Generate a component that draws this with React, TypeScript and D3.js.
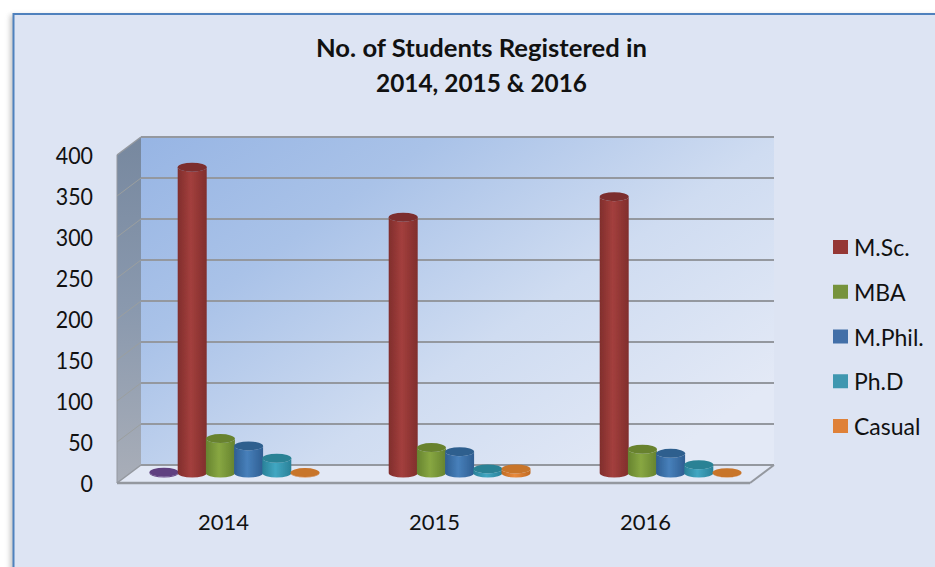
import * as d3 from "d3";

// Values. The purple series has no legend entry in the source.
const YEARS = ["2014", "2015", "2016"];
const SERIES = ["Other", "M.Sc.", "MBA", "M.Phil.", "Ph.D", "Casual"];
const OTHER = [1, null, null];
const MSC = [373, 312, 337];
const MBA = [42, 31, 29];
const MPHIL = [33, 26, 24];
const PHD = [18, 5, 10];
const CASUAL = [0.5, 5, 0.3];
const VALUES = [OTHER, MSC, MBA, MPHIL, PHD, CASUAL];
const LEGEND = ["M.Sc.", "MBA", "M.Phil.", "Ph.D", "Casual"];
const Y_TICKS = [0, 50, 100, 150, 200, 250, 300, 350, 400];

const COLORS: Record<string, { dark: string; mid: string; top: string }> = {
  Other: { dark: "#5a3a78", mid: "#6d4a8c", top: "#5f4080" },
  "M.Sc.": { dark: "#802e2c", mid: "#a33f3d", top: "#7c2f2d" },
  MBA: { dark: "#66832f", mid: "#88a742", top: "#68822f" },
  "M.Phil.": { dark: "#2f5e92", mid: "#4780bb", top: "#2e5f8e" },
  "Ph.D": { dark: "#2a8198", mid: "#41a7c2", top: "#2a8295" },
  Casual: { dark: "#c06a22", mid: "#e98a3d", top: "#c8742a" },
};
const LEGEND_FILL = ["#953735", "#76933c", "#426fa8", "#3f97b0", "#df8138"];

const FONT = "Lato, 'Open Sans', sans-serif";
const TEXT = "#111";
const GRID = "#94989f";

const WIDTH = 935;
const HEIGHT = 567;
const BACK = { dx: 24, dy: -18 };
const BAR_DY = -10;
const RX = 14.5;
const RY = 4.5;

const y = d3.scaleLinear().domain([0, 400]).range([483, 155]);
const xFront = d3.scaleBand().domain(YEARS).range([117, 750]);
const x0 = d3.scaleBand().domain(YEARS).range([129, 762]);
const x1 = d3.scaleBand().domain(SERIES).range([-84.6, 84.6]);
const legendY = d3.scalePoint().domain(LEGEND).range([247, 426]);

function cylinderBody(cx: number, yTop: number, yBase: number) {
  return (
    `M${cx - RX},${yTop} L${cx - RX},${yBase} ` +
    `A${RX},${RY} 0 0 0 ${cx + RX},${yBase} L${cx + RX},${yTop} ` +
    `A${RX},${RY} 0 0 1 ${cx - RX},${yTop} Z`
  );
}

export default function App() {
  const [x00, x11] = xFront.range();
  const y0 = y(0);
  const y4 = y(400);

  return (
    <svg
      width={WIDTH}
      height={HEIGHT}
      style={{ position: "absolute", left: 0, top: 0, background: "#fff" }}
    >
      <defs>
        <linearGradient id="wall" x1="0" y1="0" x2="1" y2="0.75">
          <stop offset="0" stopColor="#97b5e4" />
          <stop offset="0.3" stopColor="#a9c2e8" />
          <stop offset="0.65" stopColor="#cfdcf1" />
          <stop offset="1" stopColor="#e3e9f6" />
        </linearGradient>
        <linearGradient id="side" x1="0" y1="0" x2="0" y2="1">
          <stop offset="0" stopColor="#77889f" />
          <stop offset="0.5" stopColor="#8a99ae" />
          <stop offset="1" stopColor="#a9aeb8" />
        </linearGradient>
        <filter id="soft" x="-10%" y="-10%" width="120%" height="120%">
          <feGaussianBlur stdDeviation="0.6" />
        </filter>
        <filter id="cardShadow" x="-5%" y="-5%" width="110%" height="110%">
          <feGaussianBlur stdDeviation="2.5" />
        </filter>
        {SERIES.map((s, i) => (
          <linearGradient key={s} id={`bar${i}`} x1="0" y1="0" x2="1" y2="0">
            <stop offset="0" stopColor={COLORS[s].dark} />
            <stop offset="0.45" stopColor={COLORS[s].mid} />
            <stop offset="1" stopColor={COLORS[s].dark} />
          </linearGradient>
        ))}
      </defs>

      {/* Card, running off the right and bottom edges */}
      <rect x={10} y={15} width={WIDTH} height={HEIGHT} fill="#999" opacity={0.55} filter="url(#cardShadow)" />
      <rect x={13.5} y={14} width={WIDTH} height={HEIGHT} fill="#dde4f3" stroke="#4f81bd" strokeWidth={2} />

      {/* Title */}
      <g fontFamily={FONT} fontWeight={700} fontSize={24} fill={TEXT} textAnchor="middle">
        <text x={481.5} y={57} textLength={331} lengthAdjust="spacingAndGlyphs">
          No. of Students Registered in
        </text>
        <text x={481.5} y={92} textLength={211} lengthAdjust="spacingAndGlyphs">
          2014, 2015 &amp; 2016
        </text>
      </g>

      {/* Floor, side wall, back wall */}
      <path
        d={`M${x00},${y0} L${x00 + BACK.dx},${y0 + BACK.dy} L${x11 + BACK.dx},${y0 + BACK.dy} L${x11},${y0} Z`}
        fill="#e2e8f5"
      />
      <path
        d={`M${x00},${y4} L${x00 + BACK.dx},${y4 + BACK.dy} L${x00 + BACK.dx},${y0 + BACK.dy} L${x00},${y0} Z`}
        fill="url(#side)"
      />
      <rect
        x={x00 + BACK.dx}
        y={y4 + BACK.dy}
        width={x11 - x00}
        height={y0 - y4}
        fill="url(#wall)"
      />

      {/* Gridlines */}
      {Y_TICKS.map((t) => (
        <g key={t}>
          <line
            x1={x00}
            y1={y(t)}
            x2={x00 + BACK.dx}
            y2={y(t) + BACK.dy}
            stroke={t === 0 || t === 400 ? GRID : "#9b9f9f"}
            strokeWidth={t === 0 || t === 400 ? 1.5 : 1}
          />
          <line
            x1={x00 + BACK.dx}
            y1={y(t) + BACK.dy}
            x2={x11 + BACK.dx}
            y2={y(t) + BACK.dy}
            stroke={GRID}
            strokeWidth={2.2}
          />
          <text
            x={93}
            y={y(t) + 1}
            dy="0.35em"
            textAnchor="end"
            fontFamily={FONT}
            fontSize={23}
            fill={TEXT}
            textLength={String(t).length * 12.4}
            lengthAdjust="spacingAndGlyphs"
          >
            {t}
          </text>
        </g>
      ))}
      <line x1={x00} y1={y0} x2={x11} y2={y0} stroke={GRID} strokeWidth={2.5} />
      <line x1={x11} y1={y0} x2={x11 + BACK.dx} y2={y0 + BACK.dy} stroke={GRID} strokeWidth={2} />
      <line x1={x00} y1={y4} x2={x00} y2={y0} stroke={GRID} strokeWidth={1} />

      {/* Cylinders */}
      <g filter="url(#soft)">
        {YEARS.map((yr, yi) => {
          const cBand = (x0(yr) as number) + x0.bandwidth() / 2;
          return SERIES.map((s, si) => {
            const v = VALUES[si][yi];
            if (v === null) return null;
            const cx = cBand + (x1(s) as number) + x1.bandwidth() / 2;
            const yBase = y(0) + BAR_DY;
            const yTop = y(v) + BAR_DY;
            return (
              <g key={`${yr}-${s}`}>
                <path d={cylinderBody(cx, yTop, yBase)} fill={`url(#bar${si})`} />
                <ellipse cx={cx} cy={yTop} rx={RX} ry={RY} fill={COLORS[s].top} />
              </g>
            );
          });
        })}
      </g>

      {/* Category labels */}
      {YEARS.map((yr) => (
        <text
          key={yr}
          x={(xFront(yr) as number) + xFront.bandwidth() / 2 + 1}
          y={530}
          textAnchor="middle"
          fontFamily={FONT}
          fontSize={22}
          fill={TEXT}
        >
          {yr}
        </text>
      ))}

      {/* Legend */}
      {LEGEND.map((name, i) => (
        <g key={name} transform={`translate(833,${legendY(name)})`}>
          <rect x={0} y={-7} width={15} height={14} fill={LEGEND_FILL[i]} />
          <text x={21} y={1} dy="0.35em" fontFamily={FONT} fontSize={23} fill={TEXT}>
            {name}
          </text>
        </g>
      ))}
    </svg>
  );
}
